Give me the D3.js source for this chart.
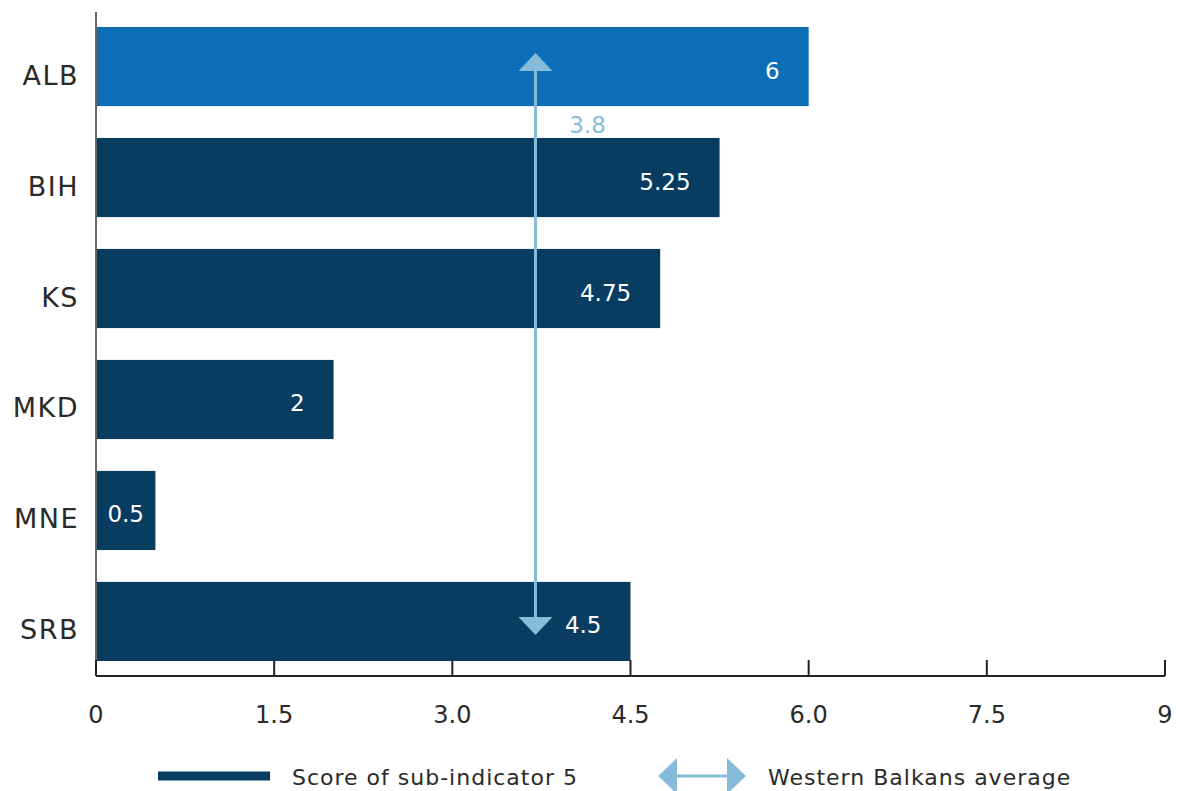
<!DOCTYPE html>
<html>
<head>
<meta charset="utf-8">
<script src="https://cdn.jsdelivr.net/npm/d3@7"></script>
<style>
  body { margin: 0; background: #fff; }
  text { font-family: 'DejaVu Sans', sans-serif; }
</style>
</head>
<body>
<div id="viz"></div>
<script>
const width = 1180;
const height = 791;
const margin = {top: 12, right: 15, bottom: 115, left: 96};

const colorBar = '#083d61';
const colorHighlight = '#0b6eb7';
const colorAvg = '#86bcd9';
const colorText = '#2a2a2a';

// Data
const countries = ['ALB', 'BIH', 'KS', 'MKD', 'MNE', 'SRB'];
const scores = [6, 5.25, 4.75, 2, 0.5, 4.5];
const highlighted = ['ALB'];
const avgValue = 3.7;
const avgLabel = '3.8';
const tickValues = [0, 1.5, 3, 4.5, 6, 7.5, 9];
const tickLabels = ['0', '1.5', '3.0', '4.5', '6.0', '7.5', '9'];
const legendLabels = ['Score of sub-indicator 5', 'Western Balkans average'];

const data = countries.map((c, i) => ({country: c, score: scores[i]}));

const svg = d3.select('#viz')
  .append('svg')
    .attr('width', width)
    .attr('height', height);

// Scales
const xScale = d3.scaleLinear()
  .domain([0, 9])
  .range([margin.left, width - margin.right]);
const yScale = d3.scaleBand()
  .domain(countries)
  .range([margin.top, height - margin.bottom])
  .paddingInner(0.287)
  .paddingOuter(0.135);

const axisY = height - margin.bottom;

// Bars
svg.append('g')
  .selectAll('rect')
  .data(data)
  .join('rect')
    .attr('x', xScale(0))
    .attr('y', d => yScale(d.country))
    .attr('width', d => xScale(d.score) - xScale(0))
    .attr('height', yScale.bandwidth())
    .attr('fill', d => highlighted.includes(d.country) ? colorHighlight : colorBar);

// Value labels (inside the bar end, centred when the bar is short)
const isShort = d => (xScale(d.score) - xScale(0)) < 80;
svg.append('g')
  .selectAll('text')
  .data(data)
  .join('text')
    .attr('x', d => isShort(d) ? xScale(d.score / 2) : xScale(d.score) - 29)
    .attr('y', d => yScale(d.country) + yScale.bandwidth() / 2 + 12)
    .attr('text-anchor', d => isShort(d) ? 'middle' : 'end')
    .attr('fill', '#fff')
    .style('font-size', '23px')
    .text(d => d.score);

// Category labels
svg.append('g')
  .selectAll('text')
  .data(countries)
  .join('text')
    .attr('x', margin.left - 17)
    .attr('y', d => yScale(d) + yScale.bandwidth() / 2 + 18)
    .attr('text-anchor', 'end')
    .attr('fill', colorText)
    .style('font-size', '27px')
    .style('letter-spacing', '1.5px')
    .text(d => d);

// Left axis line
svg.append('line')
  .attr('x1', xScale(0))
  .attr('x2', xScale(0))
  .attr('y1', margin.top)
  .attr('y2', axisY)
  .attr('stroke', '#666')
  .attr('stroke-width', 2);

// Bottom axis
const xAxisGroup = svg.append('g');
xAxisGroup.append('line')
  .attr('x1', xScale(0))
  .attr('x2', xScale(9))
  .attr('y1', axisY)
  .attr('y2', axisY)
  .attr('stroke', '#222')
  .attr('stroke-width', 2);
xAxisGroup.selectAll('.tick')
  .data(tickValues)
  .join('line')
    .attr('class', 'tick')
    .attr('x1', d => xScale(d))
    .attr('x2', d => xScale(d))
    .attr('y1', axisY - 16)
    .attr('y2', axisY)
    .attr('stroke', '#222')
    .attr('stroke-width', 2);
xAxisGroup.selectAll('.tick-label')
  .data(tickValues)
  .join('text')
    .attr('class', 'tick-label')
    .attr('x', d => xScale(d))
    .attr('y', axisY + 47)
    .attr('text-anchor', 'middle')
    .attr('fill', colorText)
    .style('font-size', '24px')
    .text((d, i) => tickLabels[i]);

// Average arrow
const arrowX = xScale(avgValue);
const topY = yScale(countries[0]) + 26;
const bottomY = yScale(countries[countries.length - 1]) + 53;
const headL = 18, headW = 17;
svg.append('line')
  .attr('x1', arrowX).attr('x2', arrowX)
  .attr('y1', topY + headL).attr('y2', bottomY - headL)
  .attr('stroke', colorAvg)
  .attr('stroke-width', 3);
svg.append('path')
  .attr('d', `M${arrowX},${topY} L${arrowX + headW},${topY + headL} L${arrowX - headW},${topY + headL} Z`)
  .attr('fill', colorAvg);
svg.append('path')
  .attr('d', `M${arrowX},${bottomY} L${arrowX + headW},${bottomY - headL} L${arrowX - headW},${bottomY - headL} Z`)
  .attr('fill', colorAvg);
svg.append('text')
  .attr('x', arrowX + 52)
  .attr('y', yScale(countries[0]) + yScale.bandwidth() + 27)
  .attr('text-anchor', 'middle')
  .attr('fill', colorAvg)
  .style('font-size', '23px')
  .text(avgLabel);

// Legend
const legendY = 776;
svg.append('rect')
  .attr('x', 158)
  .attr('y', legendY - 4.5)
  .attr('width', 112)
  .attr('height', 9)
  .attr('fill', colorBar);
svg.append('text')
  .attr('x', 292)
  .attr('y', legendY + 9)
  .attr('fill', colorText)
  .style('font-size', '22px')
  .style('letter-spacing', '1px')
  .text(legendLabels[0]);

const lx1 = 658, lx2 = 746;
svg.append('line')
  .attr('x1', lx1 + 18).attr('x2', lx2 - 18)
  .attr('y1', legendY).attr('y2', legendY)
  .attr('stroke', colorAvg)
  .attr('stroke-width', 3);
svg.append('path')
  .attr('d', `M${lx1},${legendY} L${lx1 + 19},${legendY - 18} L${lx1 + 19},${legendY + 18} Z`)
  .attr('fill', colorAvg);
svg.append('path')
  .attr('d', `M${lx2},${legendY} L${lx2 - 19},${legendY - 18} L${lx2 - 19},${legendY + 18} Z`)
  .attr('fill', colorAvg);
svg.append('text')
  .attr('x', 768)
  .attr('y', legendY + 9)
  .attr('fill', colorText)
  .style('font-size', '22px')
  .style('letter-spacing', '1px')
  .text(legendLabels[1]);
</script>
</body>
</html>
